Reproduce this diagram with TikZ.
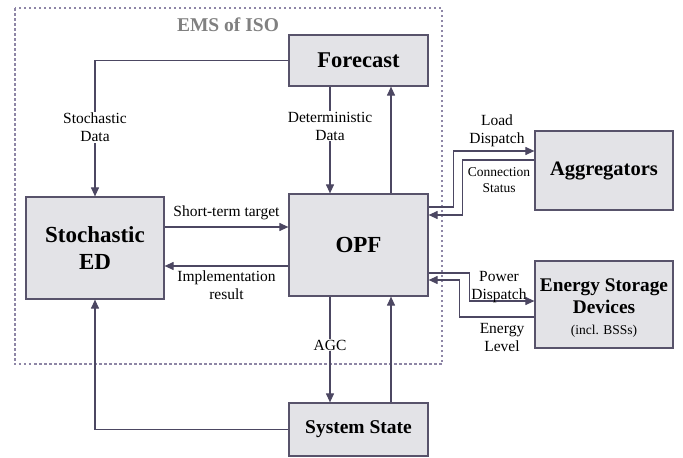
\documentclass[tikz,border=0pt]{standalone}
\usepackage{fontspec}
\setmainfont{Liberation Serif}
\usetikzlibrary{arrows.meta}
\definecolor{boxfill}{HTML}{E3E3E7}
\definecolor{boxline}{HTML}{58536B}
\definecolor{arrcol}{HTML}{4C4762}
\definecolor{dashcol}{HTML}{8E86A6}
\definecolor{emsgray}{HTML}{808080}
\tikzset{
  blk/.style={draw=boxline, fill=boxfill, line width=1.2pt, inner sep=0pt, align=center, font=\bfseries},
  arr/.style={draw=arrcol, line width=1.1pt, -{Triangle[length=9pt,width=8pt]}},
  lbl/.style={font=\fontsize{15.5}{18}\selectfont, align=center, inner sep=1pt},
  slbl/.style={font=\fontsize{13.5}{15.5}\selectfont, align=center, inner sep=1pt},
  gap/.style={fill=white, inner sep=2pt}
}
\begin{document}
\begin{tikzpicture}[x=1pt,y=-1pt]
\useasboundingbox (0,0) rectangle (683,458);
\draw[dashcol, line width=1.2pt, dash pattern=on 2.5pt off 2.5pt] (15,8) rectangle (442,364);
\node[text=emsgray, font=\bfseries\fontsize{19.5}{22}\selectfont] (ems) at (228,25) {EMS of ISO};

\node[blk, minimum width=139pt, minimum height=51pt, font=\bfseries\fontsize{22.5}{26}\selectfont] (fc) at (358.5,60.5) {Forecast};
\node[blk, minimum width=139pt, minimum height=102pt, font=\bfseries\fontsize{23}{27}\selectfont] (opf) at (358.5,245) {OPF};
\node[blk, minimum width=138pt, minimum height=102pt, font=\bfseries\fontsize{23}{27}\selectfont] (ed) at (95,248) {Stochastic\\ED};
\node[blk, minimum width=139pt, minimum height=53pt, font=\bfseries\fontsize{19.5}{22}\selectfont] (ss) at (358.5,429.5) {System State};
\node[blk, minimum width=138pt, minimum height=79pt, font=\bfseries\fontsize{20.5}{24}\selectfont] (agg) at (604,170.5) {Aggregators};
\node[blk, minimum width=138pt, minimum height=87pt] (esd) at (604,304.5) {};
\node[align=center, inner sep=0pt, font=\bfseries\fontsize{19.3}{21.5}\selectfont] (esdt) at (604,308.5) {Energy Storage\\Devices\\[0pt]{\normalfont\fontsize{13.5}{16}\selectfont (incl. BSSs)}};

% Forecast -> ED
\draw[arr] (fc.west) -| node[pos=0.745, gap, lbl] {Stochastic\\Data} (ed.north);
% Forecast -> OPF
\draw[arr] ([xshift=-28.5pt]fc.south) -- node[pos=0.37, gap, lbl] {Deterministic\\Data} ([xshift=-28.5pt]opf.north);
% OPF -> Forecast
\draw[arr] ([xshift=32.5pt]opf.north) -- ([xshift=32.5pt]fc.south);
% ED -> OPF
\draw[arr] ([yshift=21pt]ed.east) -- node[above=6pt, lbl] {Short-term target} ([yshift=21pt]ed.east -| opf.west);
% OPF -> ED
\draw[arr] ([yshift=-21pt]opf.west) -- node[below=3pt, lbl] {Implementation\\result} ([yshift=-21pt]opf.west -| ed.east);
% OPF -> SS
\draw[arr] ([xshift=-28.5pt]opf.south) -- node[pos=0.46, gap, lbl] {AGC} ([xshift=-28.5pt]ss.north);
% SS -> OPF
\draw[arr] ([xshift=32.5pt]ss.north) -- ([xshift=32.5pt]opf.south);
% SS -> ED
\draw[arr] (ss.west) -| (ed.south);

% Aggregators
\draw[arr] ([yshift=38pt]opf.east) -- ++(25,0) |- ([yshift=19.5pt]agg.west);
\draw[arr] ([yshift=10.5pt]agg.west) -- ++(-72,0) |- ([yshift=30pt]opf.east);
\node[lbl] (ld) at (497,131) {Load\\Dispatch};
\node[slbl] (cs) at (499,180) {Connection\\Status};

% ESD
\draw[arr] ([yshift=-28pt]opf.east) -- ++(41,0) |- ([yshift=3.5pt]esd.west);
\draw[arr] ([yshift=-12.5pt]esd.west) -- ++(-75,0) |- ([yshift=-35pt]opf.east);
\node[lbl] (pd) at (499,287) {Power\\Dispatch};
\node[lbl] (el) at (502,337) {Energy\\Level};
\end{tikzpicture}
\end{document}
